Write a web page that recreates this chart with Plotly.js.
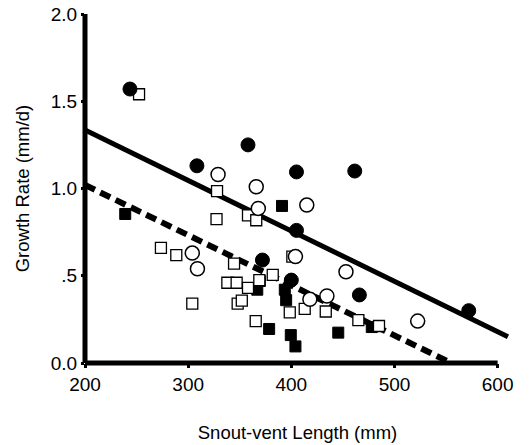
<!DOCTYPE html>
<html>
<head>
<meta charset="utf-8">
<script src="https://cdn.plot.ly/plotly-3.0.1.min.js"></script>
<style>html,body{margin:0;padding:0;background:#fff;}#chart{width:532px;height:445px;}</style>
</head>
<body>
<div id="chart"></div>
<script>
// Data
var filledCircleX = [243.6, 308.5, 358, 405, 461.5, 405, 372, 400, 466, 572];
var filledCircleY = [1.57, 1.13, 1.25, 1.095, 1.10, 0.76, 0.59, 0.475, 0.39, 0.30];

var openCircleX = [329, 366, 368, 415, 304, 309, 404, 453, 418, 434.5, 522.5];
var openCircleY = [1.08, 1.01, 0.886, 0.905, 0.63, 0.54, 0.61, 0.523, 0.365, 0.384, 0.24];

var filledSquareX = [239, 391, 369.5, 367, 393.7, 395, 378.5, 399.5, 404, 445.5, 478];
var filledSquareY = [0.854, 0.90, 0.47, 0.42, 0.42, 0.36, 0.195, 0.16, 0.095, 0.174, 0.206];

var openSquareX = [252.4, 328, 327.5, 358, 366, 273.6, 288.5, 344.5, 401, 338, 347, 358, 369, 382, 348, 352, 304, 398.5, 413, 433.4, 365.5, 465, 485];
var openSquareY = [1.54, 0.985, 0.824, 0.846, 0.818, 0.66, 0.618, 0.57, 0.61, 0.46, 0.46, 0.43, 0.475, 0.505, 0.34, 0.357, 0.34, 0.29, 0.31, 0.295, 0.24, 0.246, 0.212];

var solidLineX = [200, 610];
var solidLineY = [1.335, 0.15];
var dashedLineX = [200, 555];
var dashedLineY = [1.02, 0.0];

var xTickVals = [200, 300, 400, 500, 600];
var xTickText = ["200", "300", "400", "500", "600"];
var yTickVals = [0, 0.5, 1.0, 1.5, 2.0];
var yTickText = ["0.0", ".5", "1.0", "1.5", "2.0"];

var xMin = 200, xAxisEnd = 600, xMax = 612;

var traces = [
  {x: solidLineX, y: solidLineY, mode: 'lines', line: {color: '#000', width: 5}, hoverinfo: 'skip'},
  {x: dashedLineX, y: dashedLineY, mode: 'lines', line: {color: '#000', width: 6, dash: '11px,6px'}, hoverinfo: 'skip'},
  {x: filledSquareX, y: filledSquareY, mode: 'markers', cliponaxis: false,
   marker: {symbol: 'square', size: 11, color: '#000', line: {color: '#000', width: 1}}},
  {x: openSquareX, y: openSquareY, mode: 'markers', cliponaxis: false,
   marker: {symbol: 'square', size: 11, color: '#fff', line: {color: '#000', width: 1.3}}},
  {x: filledCircleX, y: filledCircleY, mode: 'markers', cliponaxis: false,
   marker: {symbol: 'circle', size: 14, color: '#000', line: {color: '#000', width: 1}}},
  {x: openCircleX, y: openCircleY, mode: 'markers', cliponaxis: false,
   marker: {symbol: 'circle', size: 14, color: '#fff', line: {color: '#000', width: 1.5}}}
];

var fontFam = '"Liberation Sans", Arial, sans-serif';

var layout = {
  width: 532, height: 445,
  margin: {l: 85, r: 22, t: 14, b: 82},
  paper_bgcolor: '#fff', plot_bgcolor: '#fff',
  showlegend: false,
  font: {family: fontFam, color: '#000', size: 19},
  xaxis: {
    range: [xMin, xMax], showgrid: false, zeroline: false, showline: false,
    tickmode: 'array', tickvals: xTickVals, ticktext: xTickText,
    ticks: 'outside', ticklen: 4, tickwidth: 3, tickcolor: '#000',
    tickfont: {family: fontFam, size: 19, color: '#000'},
    title: {text: 'Snout-vent Length (mm)', font: {family: fontFam, size: 18.5, color: '#000'}, standoff: 32}
  },
  yaxis: {
    range: [0, 2.0], showgrid: false, zeroline: false, showline: false,
    tickmode: 'array', tickvals: yTickVals, ticktext: yTickText,
    ticks: 'outside', ticklen: 3, tickwidth: 3, tickcolor: '#000',
    tickfont: {family: fontFam, size: 19, color: '#000'},
    title: {text: 'Growth Rate (mm/d)', font: {family: fontFam, size: 18.5, color: '#000'}, standoff: 16}
  },
  shapes: [
    {type: 'line', xref: 'paper', yref: 'paper', x0: 0, x1: 0, y0: 0, y1: 1, line: {color: '#000', width: 5}},
    {type: 'line', xref: 'paper', yref: 'paper', x0: 0, x1: (xAxisEnd - xMin) / (xMax - xMin), y0: 0, y1: 0, line: {color: '#000', width: 5}}
  ]
};

Plotly.newPlot('chart', traces, layout, {displayModeBar: false, staticPlot: true});
</script>
</body>
</html>
